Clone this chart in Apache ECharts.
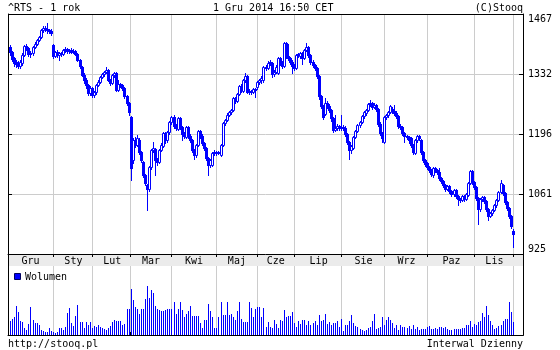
<!DOCTYPE html>
<html><head><meta charset="utf-8">
<script src="https://cdn.jsdelivr.net/npm/echarts@6/dist/echarts.min.js"></script>
<style>html,body{margin:0;padding:0;background:#fff}#c{width:560px;height:350px}</style>
</head><body><div id="c"></div>
<script>
// [open, close, low, high] per trading day, grouped by month
const dec13 = [[1392,1381,1375,1398],[1381,1365,1360,1384],[1367,1356,1350,1370],[1358,1354,1348,1362],[1355,1350,1345,1360],[1350,1358,1346,1362],[1356,1375,1352,1378],[1374,1395,1372,1398],[1395,1390,1385,1399],[1390,1376,1372,1392],[1377,1379,1370,1384],[1378,1393,1375,1395],[1393,1400,1390,1403],[1400,1408,1397,1411],[1408,1415,1405,1418],[1415,1431,1413,1433],[1431,1436,1426,1440],[1436,1433,1428,1440],[1433,1430,1425,1447],[1430,1429,1424,1434],[1429,1424,1420,1432]];
const jan14 = [[1397,1373,1368,1399],[1373,1381,1370,1384],[1381,1375,1371,1385],[1375,1379,1362,1382],[1379,1377,1372,1382],[1377,1386,1374,1389],[1386,1388,1382,1392],[1388,1384,1380,1391],[1384,1386,1380,1389],[1386,1382,1378,1390],[1382,1384,1378,1388],[1384,1377,1374,1386],[1377,1363,1360,1379],[1363,1350,1346,1365],[1348,1330,1326,1350],[1330,1318,1312,1333],[1318,1307,1300,1322],[1307,1289,1284,1310],[1289,1300,1285,1304]];
const feb14 = [[1300,1284,1280,1303],[1284,1291,1279,1294],[1290,1307,1287,1309],[1307,1314,1304,1317],[1314,1325,1311,1327],[1325,1332,1322,1334],[1332,1336,1328,1339],[1336,1341,1333,1348],[1341,1318,1315,1343],[1318,1311,1306,1321],[1311,1329,1309,1331],[1329,1334,1325,1337],[1334,1296,1292,1336],[1296,1309,1293,1318],[1309,1307,1302,1312],[1307,1300,1296,1310],[1300,1282,1278,1302],[1282,1266,1262,1285],[1266,1246,1239,1268]];
const mar14 = [[1234,1119,1092,1237],[1137,1182,1130,1186],[1182,1171,1166,1190],[1171,1187,1168,1194],[1183,1155,1150,1186],[1155,1137,1133,1158],[1133,1103,1098,1136],[1103,1085,1080,1106],[1081,1072,1024,1084],[1072,1121,1068,1124],[1121,1160,1118,1163],[1160,1164,1156,1178],[1162,1137,1103,1165],[1137,1133,1127,1141],[1133,1160,1130,1162],[1160,1171,1157,1175],[1169,1198,1166,1200],[1198,1182,1176,1201],[1182,1200,1178,1203],[1200,1223,1196,1226]];
const apr14 = [[1223,1234,1219,1237],[1234,1214,1210,1239],[1214,1210,1205,1219],[1208,1232,1205,1235],[1232,1212,1208,1234],[1212,1196,1182,1214],[1196,1192,1186,1200],[1190,1212,1188,1214],[1212,1192,1187,1215],[1192,1182,1177,1196],[1182,1160,1155,1185],[1160,1148,1140,1163],[1148,1171,1145,1173],[1171,1203,1168,1206],[1202,1192,1188,1205],[1192,1176,1172,1195],[1176,1164,1160,1179],[1164,1142,1138,1167],[1142,1126,1103,1145],[1126,1137,1121,1140],[1126,1153,1123,1156],[1153,1155,1149,1159]];
const may14 = [[1155,1153,1149,1158],[1153,1155,1150,1158],[1148,1171,1146,1173],[1171,1221,1169,1224],[1221,1228,1216,1231],[1228,1239,1225,1243],[1239,1246,1236,1249],[1246,1250,1241,1253],[1250,1277,1248,1279],[1277,1271,1266,1280],[1271,1286,1268,1288],[1286,1305,1284,1307],[1305,1296,1291,1308],[1293,1318,1290,1320],[1318,1327,1314,1334],[1327,1291,1288,1329],[1291,1293,1286,1297],[1293,1291,1287,1296],[1291,1298,1289,1301],[1298,1296,1280,1300]];
const jun14 = [[1302,1314,1298,1316],[1314,1318,1310,1321],[1318,1323,1312,1326],[1318,1348,1314,1350],[1348,1345,1340,1351],[1345,1357,1342,1360],[1357,1359,1352,1362],[1357,1332,1325,1359],[1332,1336,1328,1340],[1336,1348,1333,1351],[1334,1368,1332,1370],[1368,1357,1352,1370],[1357,1350,1346,1360],[1350,1402,1347,1404],[1402,1372,1368,1404],[1372,1368,1364,1400],[1368,1359,1355,1371],[1359,1350,1334,1362]];
const jul14 = [[1350,1345,1340,1353],[1345,1375,1342,1377],[1375,1377,1370,1380],[1372,1379,1368,1382],[1379,1368,1354,1381],[1368,1386,1365,1388],[1386,1393,1383,1402],[1393,1375,1371,1395],[1375,1359,1355,1377],[1359,1352,1348,1362],[1352,1345,1341,1355],[1345,1327,1323,1348],[1327,1282,1275,1330],[1282,1259,1254,1285],[1259,1234,1230,1262],[1241,1266,1238,1277],[1266,1259,1255,1270],[1259,1250,1246,1263],[1250,1232,1225,1253],[1232,1205,1200,1235],[1205,1210,1202,1239],[1210,1214,1205,1218],[1214,1210,1204,1217]];
const aug14 = [[1210,1212,1206,1239],[1212,1210,1205,1216],[1210,1196,1192,1213],[1196,1178,1174,1199],[1178,1160,1139,1181],[1160,1169,1152,1172],[1164,1189,1161,1191],[1189,1203,1186,1206],[1203,1216,1200,1219],[1216,1223,1212,1226],[1223,1237,1220,1239],[1237,1246,1233,1248],[1243,1250,1240,1253],[1250,1264,1247,1266],[1264,1266,1260,1273],[1266,1257,1253,1269],[1257,1262,1254,1265],[1262,1252,1248,1264],[1252,1219,1215,1255],[1219,1198,1194,1222],[1198,1187,1178,1200]];
const sep14 = [[1178,1234,1175,1237],[1234,1239,1230,1242],[1239,1246,1235,1249],[1246,1259,1243,1262],[1252,1248,1244,1256],[1248,1244,1240,1262],[1244,1237,1233,1247],[1237,1214,1210,1240],[1214,1212,1207,1218],[1212,1198,1194,1215],[1198,1191,1178,1201],[1191,1189,1185,1194],[1189,1182,1176,1192],[1187,1171,1167,1190],[1171,1155,1150,1174],[1153,1182,1150,1185],[1182,1191,1178,1194],[1191,1187,1182,1194],[1182,1155,1151,1185],[1155,1137,1133,1158],[1137,1128,1124,1140]];
const oct14 = [[1130,1121,1117,1133],[1121,1115,1111,1124],[1115,1106,1102,1118],[1103,1119,1100,1122],[1119,1115,1110,1122],[1115,1110,1106,1118],[1110,1097,1093,1119],[1097,1090,1086,1100],[1090,1081,1077,1093],[1081,1072,1068,1084],[1072,1078,1069,1081],[1078,1067,1063,1081],[1067,1060,1056,1070],[1060,1069,1057,1072],[1069,1056,1052,1071],[1056,1049,1035,1059],[1049,1047,1042,1052],[1047,1056,1044,1059],[1056,1049,1045,1059],[1049,1060,1046,1063],[1058,1085,1055,1088],[1085,1112,1082,1115],[1112,1087,1083,1115]];
const nov14 = [[1087,1076,1072,1090],[1076,1051,1047,1079],[1051,1026,992,1054],[1026,1049,1022,1051],[1049,1053,1045,1056],[1053,1044,1040,1057],[1044,1026,1022,1047],[1026,1011,1001,1029],[1011,1017,1008,1020],[1017,1024,1014,1027],[1024,1035,1021,1038],[1035,1047,1032,1049],[1047,1065,1044,1067],[1065,1085,1062,1092],[1081,1062,1058,1084],[1062,1042,1038,1065],[1042,1029,1025,1045],[1029,1011,1007,1032],[1011,988,984,1014]];
const dec14 = [[977,971,941,981]];

// volume per trading day (same grouping)
const volDec13 = [14,16,17,28,22,14,13,7,5,11,27,15,12,12,10,5,4,3,3,7,4];
const volJan14 = [3,2,3,7,7,5,8,21,26,12,9,18,29,13,13,7,13,10,13];
const volFeb14 = [7,9,8,10,8,7,6,5,7,9,13,15,14,14,14,10,11,25,25];
const volMar14 = [45,34,27,25,20,25,25,35,48,36,44,41,28,25,24,23,23,24,25,25];
const volApr14 = [25,32,20,25,32,24,17,20,23,28,18,18,18,18,12,7,15,15,30,23,17,7];
const volMay14 = [7,17,32,19,19,32,19,20,17,15,23,32,16,13,13,13,32,26,17,25];
const volJun14 = [27,27,17,26,8,13,8,7,15,11,7,15,14,24,17,18,18,22];
const volJul14 = [12,8,14,11,15,15,10,14,10,12,14,10,19,14,15,20,11,13,10,12,12,14,8];
const volAug14 = [16,4,10,10,14,19,12,9,8,6,5,4,5,7,8,14,20,6,7,8,17];
const volSep14 = [10,15,17,15,12,7,10,5,10,8,8,7,9,6,10,6,8,5,6,6,6];
const volOct14 = [8,9,6,6,7,6,8,8,7,8,6,5,5,6,6,6,6,7,7,10,10,14,8];
const volNov14 = [11,10,13,14,21,17,28,19,14,10,6,7,9,10,14,16,16,32,22];
const volDec14 = [13];

const monthNames = ['Gru','Sty','Lut','Mar','Kwi','Maj','Cze','Lip','Sie','Wrz','Paz','Lis'];
const yTicks = {min: 925, max: 1467, step: 135.5};

const months = [dec13,jan14,feb14,mar14,apr14,may14,jun14,jul14,aug14,sep14,oct14,nov14,dec14];
const vols = [volDec13,volJan14,volFeb14,volMar14,volApr14,volMay14,volJun14,volJul14,volAug14,volSep14,volOct14,volNov14,volDec14];

const PAD_START = 1, PAD_END = 5;
const ohlc = [].concat(...months);
const volume = [].concat(...vols);
const N = PAD_START + ohlc.length + PAD_END;
const cats = Array.from({length: N}, (_, i) => String(i));
const starts = []; let acc = PAD_START;
months.forEach(m => { starts.push(acc); acc += m.length; });
const gridSet = new Set(starts.slice(1));
const bounds = [0].concat(starts.slice(1));
const labelMap = {};
monthNames.forEach((n, k) => { labelMap[Math.round((bounds[k] + bounds[k + 1]) / 2)] = n; });

const candleData = ohlc.map((d, i) => [i + PAD_START, d[0], d[1], d[2], d[3]]);
const volData = volume.map((v, i) => [i + PAD_START, v]);

const FONT = '"DejaVu Sans Mono", monospace';
const BLUE = '#0000ff';
const isGrid = (i) => gridSet.has(i);

function renderCandle(params, api) {
  const i = api.value(0);
  const o = api.value(1), c = api.value(2), l = api.value(3), h = api.value(4);
  const X = Math.round(api.coord([i, o])[0]);
  const yO = Math.round(api.coord([i, o])[1]);
  const yC = Math.round(api.coord([i, c])[1]);
  const yL = Math.round(api.coord([i, l])[1]);
  const yH = Math.round(api.coord([i, h])[1]);
  const top = Math.min(yO, yC), bot = Math.max(yO, yC);
  const children = [
    {type: 'rect', shape: {x: X, y: yH, width: 1, height: Math.max(1, yL - yH + 1)}, style: {fill: BLUE}}
  ];
  if (c > o && bot - top >= 2) {
    children.push({type: 'rect', shape: {x: X - 0.5, y: top + 0.5, width: 2, height: bot - top},
                   style: {fill: '#ffffff', stroke: BLUE, lineWidth: 1}});
  } else {
    children.push({type: 'rect', shape: {x: X - 1, y: top, width: 3, height: Math.max(1, bot - top + 1)},
                   style: {fill: BLUE}});
  }
  return {type: 'group', children: children};
}

function renderVol(params, api) {
  const i = api.value(0), v = api.value(1);
  const p = api.coord([i, v]);
  const b = api.coord([i, 0]);
  const X = Math.round(p[0]);
  const yT = Math.round(p[1]);
  const yB = Math.round(b[1]);
  return {type: 'rect', shape: {x: X, y: yT, width: 1, height: Math.max(0, yB - yT)}, style: {fill: BLUE}};
}

const chart = echarts.init(document.getElementById('c'));
chart.setOption({
  animation: false,
  backgroundColor: '#ffffff',
  grid: [
    {left: 8, top: 14, width: 515, height: 240},
    {left: 8, top: 266, width: 515, height: 69}
  ],
  xAxis: [
    {type: 'category', gridIndex: 0, data: cats, boundaryGap: false,
     axisLine: {show: true, lineStyle: {color: '#000', width: 1}},
     axisTick: {show: true, interval: (i) => isGrid(i), length: 3, lineStyle: {color: '#000'}},
     axisLabel: {show: true, interval: (i) => labelMap[i] !== undefined,
                 formatter: (v, i) => labelMap[i] || '', margin: 2, color: '#000',
                 fontFamily: FONT, fontSize: 10},
     splitLine: {show: true, interval: (i) => isGrid(i), lineStyle: {color: '#cccccc', width: 1}}},
    {type: 'category', gridIndex: 1, data: cats, boundaryGap: false, position: 'top',
     axisLine: {show: true, lineStyle: {color: '#000', width: 1}},
     axisTick: {show: true, interval: (i) => isGrid(i), length: 3, lineStyle: {color: '#000'}},
     axisLabel: {show: false},
     splitLine: {show: true, interval: (i) => isGrid(i), lineStyle: {color: '#cccccc', width: 1}}}
  ],
  yAxis: [
    {type: 'value', gridIndex: 0, position: 'right', min: yTicks.min, max: yTicks.max, interval: yTicks.step,
     axisLine: {show: true, lineStyle: {color: '#000'}},
     axisTick: {show: true, inside: true, length: 4, lineStyle: {color: '#000'}},
     axisLabel: {show: true, margin: 5, color: '#000', fontFamily: FONT, fontSize: 10,
                 formatter: (v) => String(Math.round(v)),
                 verticalAlignMinLabel: 'bottom', verticalAlignMaxLabel: 'top'},
     splitLine: {show: true, lineStyle: {color: '#cccccc', width: 1}}},
    {type: 'value', gridIndex: 0, position: 'left', min: yTicks.min, max: yTicks.max, interval: yTicks.step,
     axisLine: {show: true, lineStyle: {color: '#000'}},
     axisTick: {show: true, inside: true, length: 4, lineStyle: {color: '#000'}},
     axisLabel: {show: false}, splitLine: {show: false}},
    {type: 'value', gridIndex: 1, min: 0, max: 67, show: false, splitLine: {show: false}}
  ],
  series: [
    {type: 'custom', name: '^RTS', xAxisIndex: 0, yAxisIndex: 0, data: candleData,
     encode: {x: 0, y: [1, 2, 3, 4]}, renderItem: renderCandle, silent: true, clip: true},
    {type: 'custom', name: 'Wolumen', xAxisIndex: 1, yAxisIndex: 2, data: volData,
     encode: {x: 0, y: 1}, renderItem: renderVol, silent: true}
  ],
  graphic: [
    {type: 'rect', z: -10, silent: true, shape: {x: 8, y: 254, width: 515, height: 12}, style: {fill: '#ebebeb'}},
    {type: 'rect', z: 100, silent: true, shape: {x: 8.5, y: 14.5, width: 515, height: 321}, style: {fill: null, stroke: '#000', lineWidth: 1}},
    {type: 'rect', z: 100, silent: true, shape: {x: 14.5, y: 273.5, width: 6, height: 6}, style: {fill: BLUE, stroke: '#000060', lineWidth: 1}},
    {type: 'text', z: 100, silent: true, style: {x: 25, y: 277, text: 'Wolumen', font: '10px ' + FONT, fill: '#000', textVerticalAlign: 'middle'}},
    {type: 'text', z: 100, silent: true, style: {x: 8, y: 8, text: '^RTS - 1 rok', font: '10px ' + FONT, fill: '#000', textVerticalAlign: 'middle'}},
    {type: 'text', z: 100, silent: true, style: {x: 213, y: 8, text: '1 Gru 2014 16:50 CET', font: '10px ' + FONT, fill: '#000', textVerticalAlign: 'middle'}},
    {type: 'text', z: 100, silent: true, style: {x: 523, y: 8, text: '(C)Stooq', font: '10px ' + FONT, fill: '#000', textAlign: 'right', textVerticalAlign: 'middle'}},
    {type: 'text', z: 100, silent: true, style: {x: 8, y: 344, text: 'http://stooq.pl', font: '10px ' + FONT, fill: '#000', textVerticalAlign: 'middle'}},
    {type: 'text', z: 100, silent: true, style: {x: 523, y: 344, text: 'Interwal Dzienny', font: '10px ' + FONT, fill: '#000', textAlign: 'right', textVerticalAlign: 'middle'}}
  ]
});
</script></body></html>
